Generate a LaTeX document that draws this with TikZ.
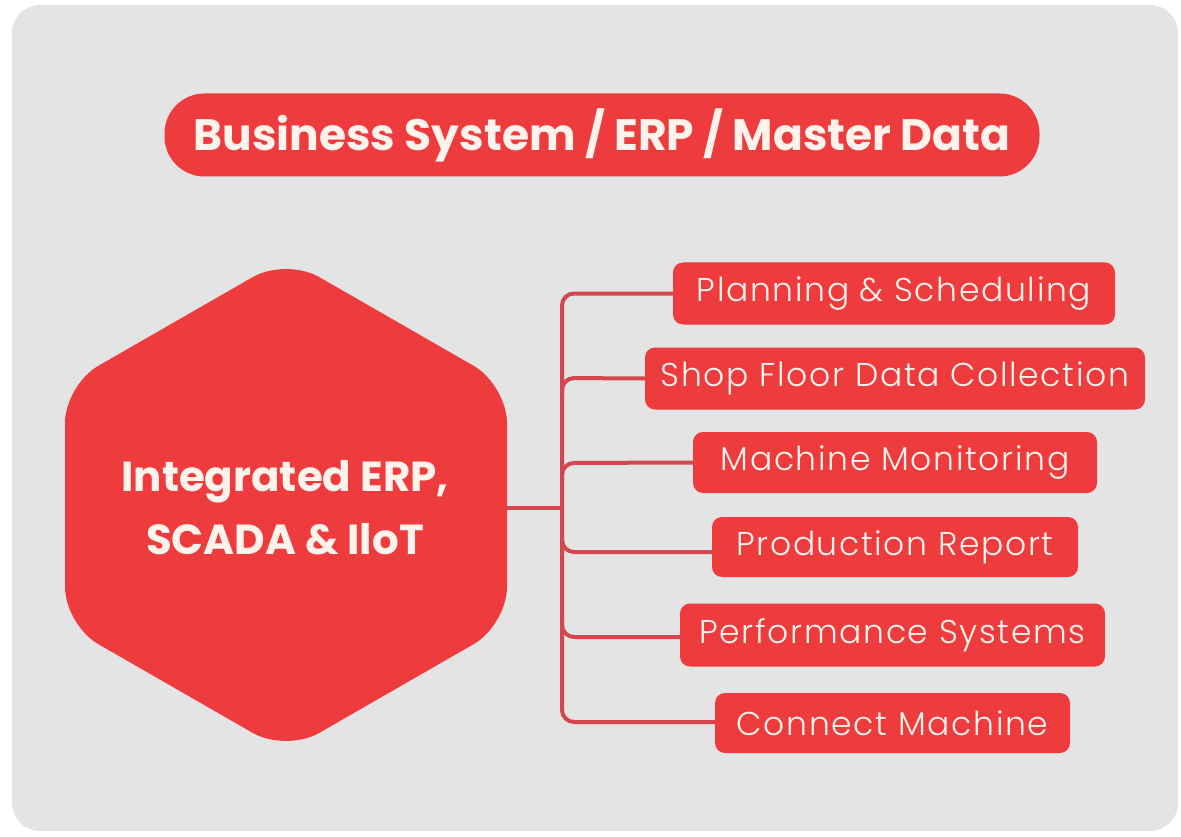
\documentclass[tikz,border=0pt]{standalone}
\usepackage{fontspec}
\setmainfont{Poppins}
\newfontfamily\boxfont{Poppins Light}[LetterSpace=5]
\definecolor{bgGray}{HTML}{E4E4E4}
\definecolor{mainRed}{HTML}{EE3B3E}
\definecolor{lineRed}{HTML}{D4474F}
\definecolor{txtCream}{HTML}{FFF3EC}
\begin{document}
\begin{tikzpicture}[x=1pt,y=-1pt,
  redbox/.style={fill=mainRed, rounded corners=10pt, text=txtCream, inner sep=0pt, font=\boxfont\fontsize{33}{38}\selectfont},
  conn/.style={draw=lineRed, line width=4pt, rounded corners=12pt}
]
\useasboundingbox (0,0) rectangle (1181,837);
\fill[white] (0,0) rectangle (1181,837);
\fill[bgGray, rounded corners=28pt] (12,5) rectangle (1178,831);

% top pill
\node[fill=mainRed, rounded corners=40pt, minimum width=875pt, minimum height=83pt, inner sep=0pt,
      text=txtCream, font=\bfseries\fontsize{44}{50}\selectfont] (top) at (602,135) {Business System / ERP / Master Data};

% hexagon
\fill[mainRed, rounded corners=38pt] (286,258) -- (507,385) -- (507,625) -- (286,752) -- (65,625) -- (65,385) -- cycle;
\node[text=txtCream, align=center, font=\bfseries\fontsize{42}{63}\selectfont] (hex) at (285,508) {Integrated ERP,\\SCADA \& IloT};
\coordinate (hexR) at (505,508);

% boxes
\node[redbox, minimum width=442pt, minimum height=62pt] (b1) at (894,293.5) {Planning \& Scheduling};
\node[redbox, minimum width=500pt, minimum height=62pt] (b2) at (895,378.5) {Shop Floor Data Collection};
\node[redbox, minimum width=404pt, minimum height=61pt] (b3) at (895,462.5) {Machine Monitoring};
\node[redbox, minimum width=366pt, minimum height=60pt] (b4) at (895,547) {Production Report};
\node[redbox, minimum width=425pt, minimum height=63pt] (b5) at (892.5,635) {Performance Systems};
\node[redbox, minimum width=355pt, minimum height=60pt] (b6) at (892.5,723) {Connect Machine};

\coordinate (tr) at (562,508);

% connectors
\draw[conn] (hexR) -- (tr);
\draw[conn] (b1.west) -| (tr);
\draw[conn] (b6.west |- 0,722) -| (tr);
\draw[conn] (b2.west) -- (562,378) -- (562,395);
\draw[conn] (b3.west) -- (562,463) -- (562,480);
\draw[conn] (b4.west |- 0,552) -- (562,552) -- (562,535);
\draw[conn] (b5.west |- 0,637) -- (562,637) -- (562,620);
\end{tikzpicture}
\end{document}
